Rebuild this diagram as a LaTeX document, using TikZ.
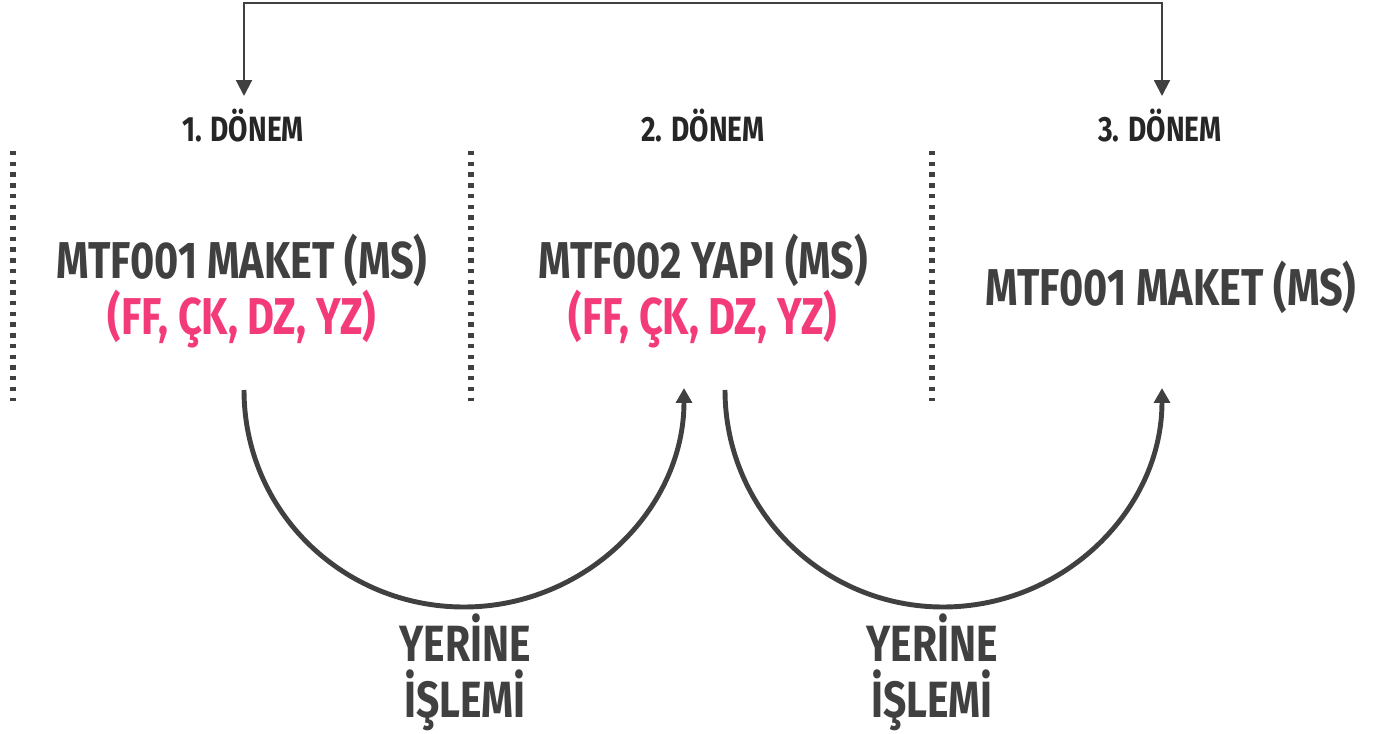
\documentclass[tikz,border=0pt]{standalone}
\usepackage{fontspec}
\setsansfont{Fira Sans}[FakeStretch=0.8]
\usetikzlibrary{arrows.meta}
\definecolor{txtgray}{HTML}{404040}
\definecolor{lblgray}{HTML}{262626}
\definecolor{pinkish}{HTML}{F43B7A}
\tikzset{every node/.style={inner sep=0pt,font=\sffamily\bfseries,text=txtgray}}
\tikzset{donem/.style={font=\sffamily\bfseries\fontsize{20}{24}\selectfont,text=lblgray}}
\tikzset{ders/.style={align=center,font=\sffamily\bfseries\fontsize{29.5}{31.7}\selectfont}}
\tikzset{yerine/.style={align=center,font=\sffamily\bfseries\fontsize{29}{31.7}\selectfont}}
\tikzset{sepline/.style={line width=3pt,draw=txtgray,dash pattern=on 2.5pt off 3.6pt}}
\tikzset{bigarc/.style={line width=2.8pt,draw=txtgray,-{Triangle[width=9pt,length=8.5pt]}}}

\begin{document}
\begin{tikzpicture}[x=0.02cm,y=-0.02cm]
      \useasboundingbox (0,0) rectangle (1377,734);
      \node[donem] (d1) at (243,126) {1. DÖNEM};
      \node[donem] (d2) at (703,126) {2. DÖNEM};
      \node[donem] (d3) at (1160,126) {3. DÖNEM};
      \node[ders] (m1) at (242,291) {MTF001 MAKET (MS)\\\textcolor{pinkish}{(FF, ÇK, DZ, YZ)}};
      \node[ders] (m2) at (703,291) {MTF002 YAPI (MS)\\\textcolor{pinkish}{(FF, ÇK, DZ, YZ)}};
      \node[ders] (m3) at (1171,287) {MTF001 MAKET (MS)};
      \node[yerine] (y1) at (465,672) {YERİNE\\İŞLEMİ};
      \node[yerine] (y2) at (932,672) {YERİNE\\İŞLEMİ};
      \foreach \x in {13,471,932}
        \draw[sepline] (\x,151) -- (\x,401);

      \coordinate (p1) at (244,96);
      \coordinate (p3) at (1162,96);
      \coordinate (top) at (703,3);
      \draw[line width=1.2pt,draw=txtgray,{Triangle[width=9pt,length=9pt]}-{Triangle[width=9pt,length=9pt]}] (p1) |- (top) -| (p3);

      \coordinate (a1) at (244,390);
      \coordinate (c1) at (464,607);
      \coordinate (b1) at (684,388);
      \coordinate (a2) at (725,390);
      \coordinate (c2) at (943,607);
      \coordinate (b2) at (1162,388);
      \draw[bigarc] (a1) to[out=-90,in=180] (c1) to[out=0,in=-90] (b1);
      \draw[bigarc] (a2) to[out=-90,in=180] (c2) to[out=0,in=-90] (b2);
    \end{tikzpicture}
\end{document}
